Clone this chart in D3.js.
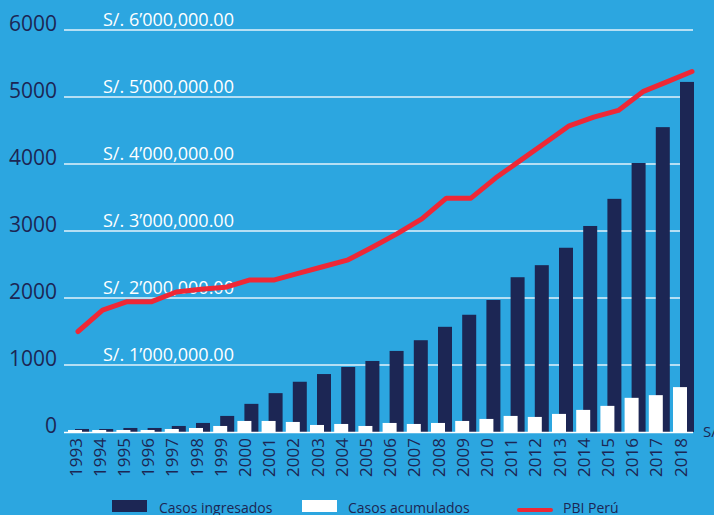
<!DOCTYPE html>
<html>
<head>
<meta charset="utf-8">
<script src="https://cdnjs.cloudflare.com/ajax/libs/d3/7.8.5/d3.min.js"></script>
<style>
  html, body { margin: 0; padding: 0; background: #2ca6e0; }
  svg { display: block; font-family: 'Open Sans', sans-serif; }
</style>
</head>
<body>
<div id="chart"></div>
<script>
const years = ['1993', '1994', '1995', '1996', '1997', '1998', '1999', '2000', '2001', '2002',
  '2003', '2004', '2005', '2006', '2007', '2008', '2009', '2010', '2011', '2012',
  '2013', '2014', '2015', '2016', '2017', '2018'];

const casosIngresados = [45, 45, 60, 60, 90, 135, 240, 420, 580, 750, 865, 970, 1060,
  1210, 1370, 1570, 1750, 1970, 2310, 2490, 2750, 3075, 3480, 4015, 4550, 5225];

const casosAcumulados = [30, 30, 30, 30, 45, 60, 90, 165, 165, 150, 105, 120, 90,
  135, 120, 135, 165, 195, 240, 225, 270, 330, 390, 510, 550, 670];

// PBI Peru in soles
const pbiPeru = [1500000, 1820000, 1945000, 1945000, 2090000, 2130000, 2160000, 2270000,
  2270000, 2370000, 2470000, 2570000, 2760000, 2960000, 3180000, 3490000, 3490000,
  3790000, 4050000, 4310000, 4570000, 4700000, 4800000, 5080000, 5230000, 5380000];

const casosTicks = [0, 1000, 2000, 3000, 4000, 5000, 6000];
const pbiTicks = [1000000, 2000000, 3000000, 4000000, 5000000, 6000000];

const legendItems = ['Casos ingresados', 'Casos acumulados', 'PBI Perú'];

const width = 714,
  height = 515;

let colors = {
  bg: '#2ca6e0',
  navy: '#1c2654',
  white: '#ffffff',
  red: '#ee2836',
  grid: '#e3f2fb'
};

const gridLeft = 64,
  gridRight = 693;

const svg = d3.select('#chart').append('svg')
  .attr('width', width)
  .attr('height', height);

svg.append('rect')
  .attr('width', width)
  .attr('height', height)
  .attr('fill', colors.bg);

const x = d3.scaleBand()
  .domain(years)
  .range([66, 695.2]);

// the line sits on its own axis in the original, a bit wider than the bars
const xLine = d3.scalePoint()
  .domain(years)
  .range([78, 692]);

const y = d3.scaleLinear()
  .domain([0, 6000])
  .range([432, 30]);

const yPbi = d3.scaleLinear()
  .domain([0, 6000000])
  .range([432, 30]);

const barWidth = 14;

// gridlines
svg.append('g')
  .selectAll('line')
  .data(casosTicks.filter(d => d > 0))
  .enter()
  .append('line')
  .attr('x1', gridLeft)
  .attr('x2', gridRight)
  .attr('y1', d => y(d))
  .attr('y2', d => y(d))
  .attr('stroke', colors.grid)
  .attr('stroke-width', 1.6);

// left axis labels
svg.append('g')
  .selectAll('text')
  .data(casosTicks)
  .enter()
  .append('text')
  .attr('x', 57)
  .attr('y', d => y(d) + 1)
  .attr('text-anchor', 'end')
  .attr('fill', colors.navy)
  .style('font-size', '21px')
  .text(d => d);

// soles labels sit above each gridline
const solesFormat = v => 'S/. ' + d3.format(',.2f')(v).replace(',', '\u2019');

svg.append('g')
  .selectAll('text')
  .data(pbiTicks)
  .enter()
  .append('text')
  .attr('x', 103)
  .attr('y', d => yPbi(d) - 4)
  .attr('fill', colors.white)
  .style('font-size', '18px')
  .text(d => solesFormat(d));

// bars
const bars = svg.append('g');

bars.selectAll('.ingresados')
  .data(casosIngresados)
  .enter()
  .append('rect')
  .classed('ingresados', true)
  .attr('x', (d, i) => x(years[i]) + 9)
  .attr('y', d => y(d))
  .attr('width', barWidth)
  .attr('height', d => y(0) - y(d))
  .attr('fill', colors.navy);

bars.selectAll('.acumulados')
  .data(casosAcumulados)
  .enter()
  .append('rect')
  .classed('acumulados', true)
  .attr('x', (d, i) => x(years[i]) + 2)
  .attr('y', d => y(d))
  .attr('width', barWidth)
  .attr('height', d => y(0) - y(d))
  .attr('fill', colors.white);

// baseline
svg.append('line')
  .attr('x1', gridLeft)
  .attr('x2', gridRight)
  .attr('y1', y(0) + 0.5)
  .attr('y2', y(0) + 0.5)
  .attr('stroke', colors.white)
  .attr('stroke-width', 1.6);

// PBI line
const line = d3.line()
  .x((d, i) => xLine(years[i]))
  .y(d => yPbi(d));

svg.append('path')
  .datum(pbiPeru)
  .attr('d', line)
  .attr('fill', 'none')
  .attr('stroke', colors.red)
  .attr('stroke-width', 5)
  .attr('stroke-linejoin', 'round')
  .attr('stroke-linecap', 'round');

// year labels
svg.append('g')
  .selectAll('text')
  .data(years)
  .enter()
  .append('text')
  .attr('transform', d => `translate(${x(d) + 15.5}, 438) rotate(-90)`)
  .attr('text-anchor', 'end')
  .attr('fill', colors.navy)
  .style('font-size', '17px')
  .style('font-weight', 500)
  .text(d => d);

// right axis unit, cut by the edge
svg.append('text')
  .attr('x', 703)
  .attr('y', 437)
  .attr('fill', colors.navy)
  .style('font-size', '15px')
  .text('S/.');

// legend
const legend = svg.append('g');
const legendX = [112, 302, 517];

legend.append('rect')
  .attr('x', legendX[0])
  .attr('y', 500)
  .attr('width', 35)
  .attr('height', 12)
  .attr('fill', colors.navy);

legend.append('rect')
  .attr('x', legendX[1])
  .attr('y', 500)
  .attr('width', 35)
  .attr('height', 12)
  .attr('fill', colors.white);

legend.append('line')
  .attr('x1', legendX[2] + 2)
  .attr('x2', legendX[2] + 34)
  .attr('y1', 510)
  .attr('y2', 510)
  .attr('stroke', colors.red)
  .attr('stroke-width', 4)
  .attr('stroke-linecap', 'round');

legend.selectAll('text')
  .data(legendItems)
  .enter()
  .append('text')
  .attr('x', (d, i) => legendX[i] + [47, 46, 46][i])
  .attr('y', 513)
  .attr('fill', colors.navy)
  .style('font-size', '14px')
  .text(d => d);
</script>
</body>
</html>
